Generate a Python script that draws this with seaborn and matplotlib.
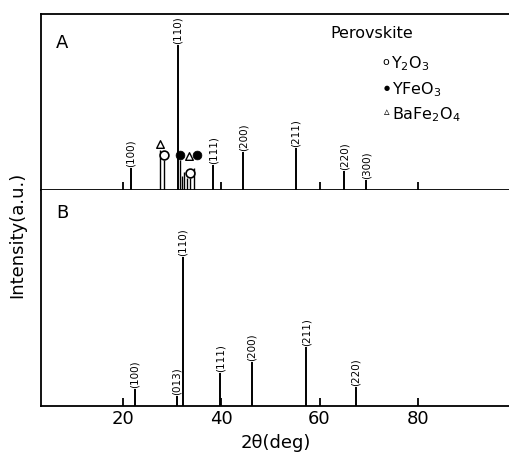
import numpy as np
import pandas as pd
import matplotlib
matplotlib.use("Agg")
import matplotlib.pyplot as plt
import seaborn as sns

# ---- data ----
a_pos = [21.7, 31.2, 38.4, 44.5, 55.2, 65.0, 69.5]
a_int = [22, 145, 25, 38, 42, 19, 10]
a_hkl = ["(100)", "(110)", "(111)", "(200)", "(211)", "(220)", "(300)"]

b_pos = [22.5, 31.0, 32.2, 39.8, 46.3, 57.3, 67.4]
b_int = [17, 10, 149, 33, 44, 59, 19]
b_hkl = ["(100)", "(013)", "(110)", "(111)", "(200)", "(211)", "(220)"]

imp_pos = [27.6, 28.4, 31.6, 32.0, 32.4, 33.0, 33.7, 34.5]
imp_int = [40, 30, 30, 14, 18, 12, 12, 22]

y2o3_pos = [28.4, 33.7]
y2o3_int = [35, 17]
yfeo3_pos = [31.6, 35.1]
yfeo3_int = [35, 35]
bafe_pos = [27.6, 33.5]
bafe_int = [46, 34]

xticks = [20, 40, 60, 80]

sns.set_style("ticks", {"axes.edgecolor": "black", "text.color": "black",
                        "xtick.color": "black", "axes.labelcolor": "black"})
plt.rcParams['font.family'] = ['DejaVu Sans']

fig = plt.figure(figsize=(5.1, 4.62), dpi=100)
W, H = 510, 462
left = 41 / W
axA = fig.add_axes([left, 1 - 190 / H, 1 - left, 176 / H])
axB = fig.add_axes([left, 1 - 406 / H, 1 - left, 216 / H], sharex=axA)

xlim = (3.4, 98.7)
lw = 1.4

for ax, ymax in ((axA, 176), (axB, 216)):
    ax.set_xlim(*xlim)
    ax.set_ylim(0, ymax)
    ax.set_yticks([])
    for s in ax.spines.values():
        s.set_linewidth(1.3)
        s.set_color("black")
    ax.spines['right'].set_visible(False)

axB.spines['top'].set_visible(False)

# panel A sticks
axA.vlines(a_pos, 0, a_int, color="black", lw=lw)
axA.vlines(imp_pos, 0, imp_int, color="black", lw=1.0)
for x, h, t in zip(a_pos, a_int, a_hkl):
    axA.annotate(t, (x, h), xytext=(0, 1), textcoords="offset points",
                 rotation=90, ha="center", va="bottom", fontsize=7.5)

dfy = pd.DataFrame({"x": y2o3_pos, "y": y2o3_int})
dff = pd.DataFrame({"x": yfeo3_pos, "y": yfeo3_int})
dfb = pd.DataFrame({"x": bafe_pos, "y": bafe_int})
sns.scatterplot(data=dfy, x="x", y="y", ax=axA, marker="o", s=40,
                facecolor="white", edgecolor="black", linewidth=1.2, zorder=3)
sns.scatterplot(data=dff, x="x", y="y", ax=axA, marker="o", s=40,
                color="black", edgecolor="black", zorder=3)
sns.scatterplot(data=dfb, x="x", y="y", ax=axA, marker="^", s=30,
                facecolor="white", edgecolor="black", linewidth=1.0, zorder=3)

# panel B sticks
axB.vlines(b_pos, 0, b_int, color="black", lw=lw)
for x, h, t in zip(b_pos, b_int, b_hkl):
    axB.annotate(t, (x, h), xytext=(0, 1), textcoords="offset points",
                 rotation=90, ha="center", va="bottom", fontsize=7.5)

for ax in (axA, axB):
    ax.set_xlabel("")
    ax.set_ylabel("")

axA.set_xticks(xticks)
axA.tick_params(axis="x", direction="inout", length=11, width=1.3,
                labelbottom=False, color="black")
axB.tick_params(axis="x", direction="in", length=6, width=1.3,
                labelsize=13, pad=3, color="black", labelcolor="black")
axB.set_xticklabels([str(v) for v in xticks])

axB.set_xlabel("2\u03b8(deg)", fontsize=13, labelpad=4, color="black")
fig.text(17 / W, 1 - 235 / H, "Intensity(a.u.)", rotation=90,
         ha="center", va="center", fontsize=13, color="black")

fig.text(62 / W, 1 - 43 / H, "A", ha="center", va="center", fontsize=13)
fig.text(62 / W, 1 - 213 / H, "B", ha="center", va="center", fontsize=13)

fig.text(372 / W, 1 - 33 / H, "Perovskite", ha="center", va="center", fontsize=11.5)
# legend symbols
fig.text(386 / W, 1 - 62 / H, "o", ha="center", va="center", fontsize=8)
fig.text(387 / W, 1 - 88 / H, "\u25cf", ha="center", va="center", fontsize=5)
fig.text(387 / W, 1 - 112 / H, "\u25b5", ha="center", va="center", fontsize=8)
fig.text(391 / W, 1 - 64 / H, "Y$_2$O$_3$", ha="left", va="center", fontsize=11.5)
fig.text(392 / W, 1 - 90 / H, "YFeO$_3$", ha="left", va="center", fontsize=11.5)
fig.text(392 / W, 1 - 115 / H, "BaFe$_2$O$_4$", ha="left", va="center", fontsize=11.5)

fig.savefig("out.png", dpi=100)
